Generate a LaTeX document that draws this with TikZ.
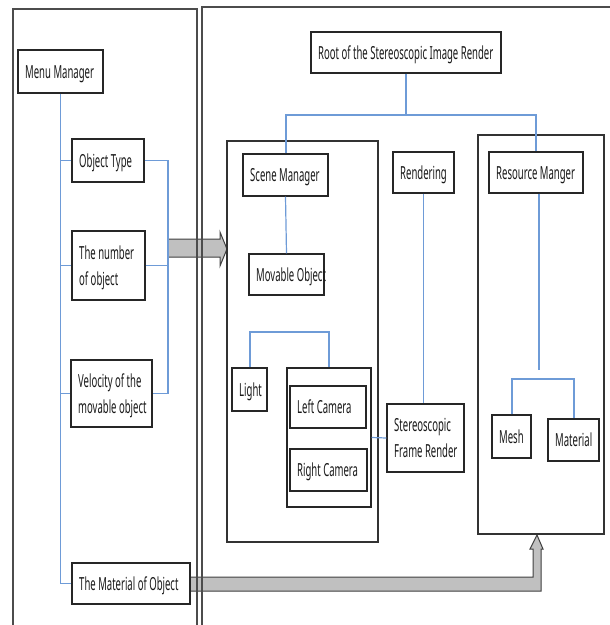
\documentclass[tikz,border=0pt]{standalone}
\usepackage{fontspec}
\setmainfont[FakeStretch=0.53]{Noto Sans}
\usetikzlibrary{fit,calc}
\definecolor{lineblue}{RGB}{110,155,215}
\definecolor{arrowgray}{RGB}{192,192,192}
\tikzset{
 box/.style={draw=black!85, line width=1.2pt, inner sep=0pt},
 cont/.style={draw=black!80, line width=1.2pt, inner sep=0pt},
 txt/.style={inner sep=0pt, anchor=base west, align=left, font=\fontsize{18}{26}\selectfont, text=black!90},
 conn/.style={draw=lineblue, line width=1.2pt},
 busline/.style={draw=lineblue, line width=2pt},
 fatarrow/.style={fill=arrowgray, draw=black!75, line width=1pt},
 panel/.style={draw=black!70, line width=1.2pt}
}
\newcommand\bx[7]{%
 \node[box, fit={(#2,#3) (#4,#5)}] (#1) {};
 \node[txt] (#1-t) at ({#2+7},{(#3+#5)/2+#6}) {#7};
}
\begin{document}
\begin{tikzpicture}[x=1pt,y=-1pt]
\useasboundingbox (0,0) rectangle (610,625);
% fat arrows (drawn first, frames on top)
\draw[fatarrow] (168,239) -- (220,239) -- (220,232) -- (227,249) -- (220,266) -- (220,257) -- (168,257) -- cycle;
\draw[fatarrow] (190,577) -- (533,577) -- (533,549) -- (530,549) -- (537,535) -- (543,549) -- (541,549) -- (541,591) -- (190,591) -- cycle;
% panels
\draw[panel] (13,625) -- (13,9) -- (197,9) -- (197,625);
\draw[panel] (202,625) -- (202,7) -- (610,7);
% containers
\node[cont, fit={(227,141) (378,542)}] (scont) {};
\node[cont, fit={(478,135) (604,534)}] (rcont) {};
% left boxes
\bx{mm}{18}{50}{103}{93}{6.5}{Menu Manager}
\bx{ot}{72}{139}{144}{182}{6.5}{Object Type}
\bx{num}{72}{231}{145}{300}{20}{The number\\of object}
\bx{vel}{71}{360}{152}{427}{20}{Velocity of the\\movable object}
\bx{mat}{72}{563}{190}{604}{6.5}{The Material of Object}
% right boxes
\bx{root}{311}{32}{501}{73}{6.5}{Root of the Stereoscopic Image Render}
\bx{sm}{243}{154}{328}{196}{6.5}{Scene Manager}
\bx{mov}{249}{254}{324}{295}{6.5}{Movable Object}
\bx{rend}{393}{152}{454}{193}{6.5}{Rendering}
\bx{rm}{489}{152}{583}{193}{6.5}{Resource Manger}
\bx{light}{232}{368}{267}{411}{6.5}{Light}
\node[box, fit={(287,368) (371,507)}] (camg) {};
\bx{lcam}{290}{386}{366}{428}{6.5}{Left Camera}
\bx{rcam}{290}{449}{367}{491}{6.5}{Right Camera}
\bx{stereo}{387}{404}{464}{472}{19}{Stereoscopic\\Frame Render}
\bx{mesh}{492}{415}{531}{458}{6.5}{Mesh}
\bx{mtl}{548}{419}{599}{461}{6.5}{Material}
% left connectors
\draw[conn] (mm.south) -- (mm.south |- mat.west) -- (mat.west);
\draw[conn] (mm.south |- ot.west) -- (ot.west);
\draw[conn] (mm.south |- num.west) -- (num.west);
\draw[conn] (mm.south |- vel.west) -- (vel.west);
\coordinate (brk) at (168,0);
\draw[conn] (ot.east) -- (brk |- ot.east) -- (brk |- vel.east) -- (vel.east);
\draw[conn] (num.east) -- (brk |- num.east);
% right connectors
\coordinate (rbus) at (406,115);
\draw[conn] (root.south) -- (rbus);
\draw[busline] (sm.north) |- (rbus) -| (rm.north);
\draw[conn] (sm.south) -- (mov.north);
\draw[conn] (rend.south) -- (rend.south |- stereo.north);
\coordinate (rmend) at (539,370);
\draw[conn] (rm.south -| rmend) -- (rmend);
\coordinate (mbus) at (540,379);
\draw[busline] (mesh.north) |- (mbus) -| (mtl.north);
\coordinate (lbus) at (290,332);
\draw[busline] (light.north) |- (lbus) -| (camg.north);
\draw[conn] (camg.east) -- (stereo.west);
\end{tikzpicture}
\end{document}
